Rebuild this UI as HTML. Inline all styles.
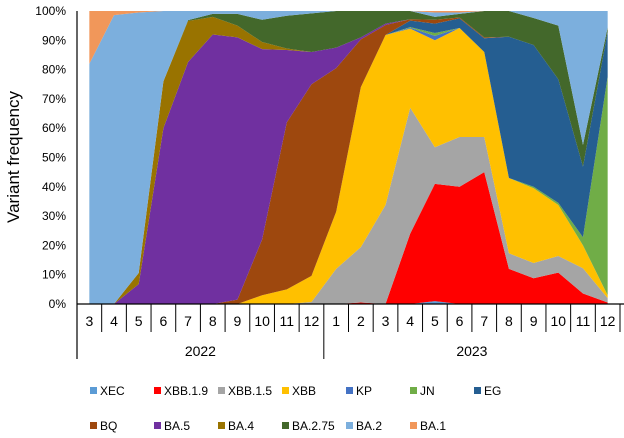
<!DOCTYPE html>
<html><head><meta charset="utf-8"><style>
body{margin:0;background:#fff;font-family:"Liberation Sans",Arial,sans-serif}
svg text{font-family:"Liberation Sans",Arial,sans-serif}
</style></head><body>
<svg id="chart" width="624" height="433" xmlns="http://www.w3.org/2000/svg">
<g id="areas"></g>
<g id="axes"></g>
<g id="legend"></g>
<text transform="translate(19,157) rotate(-90)" text-anchor="middle" font-size="17">Variant frequency</text>
</svg>
<script>
const months = ["3","4","5","6","7","8","9","10","11","12","1","2","3","4","5","6","7","8","9","10","11","12"];
const years = ["2022","2023"];
const seriesNames = ["XEC","XBB.1.9","XBB.1.5","XBB","KP","JN","EG","BQ","BA.5","BA.4","BA.2.75","BA.2","BA.1"];
const seriesColors = ["#5b9bd5","#ff0000","#a5a5a5","#ffc000","#4472c4","#70ad47","#255e91","#9e480e","#7030a0","#997300","#43682b","#7cafdd","#f1975a"];
const XEC    = [0,0,0,0,0,0,0,0,0,0,0,0,0,0,1,0,0,0,0,0,0,0];
const XBB19  = [0,0,0,0,0,0,0,0,0,0,0,0.5,0,24,40,40,45,12,8.8,10.7,3.6,0.5];
const XBB15  = [0,0,0,0,0,0,0,0,0,0.7,12,18.9,33.8,43,12.5,17,12,5.3,5.2,5.7,8.6,1.5];
const XBB    = [0,0,0,0,0,0,0,3,5,8.9,19.5,54.6,58,27,36.5,37.2,29,25.7,25.5,17.4,7.8,1];
const KP     = [0,0,0,0,0,0,0,0,0,0,0,0,0,0.3,1.5,0,0,0,0,0,0,0];
const JN     = [0,0,0,0,0,0,0,0,0,0,0,0,0,0.2,1,0,0,0,0.5,0.7,2.8,74.6];
const EG     = [0,0,0,0,0,0,0,0,0,0,0,0,0,2.2,3.2,3.3,4.7,48.2,48.4,42.2,24.1,15.4];
const BQ     = [0,0,0,0,0,0,1.5,19,57,65.4,49,16.3,3.4,0.5,1.3,0.3,0.3,0,0,0,0,0];
const BA5    = [0,0,6.8,60,82.6,92,89.5,65,24.7,11,7,0.7,0.5,0,0,0,0,0,0,0,0,0];
const BA4    = [0,0,3.8,16,14,6,4,2.4,0.5,0,0,0,0,0,0,0,0,0,0,0,0,0];
const BA275  = [0,0,0,0,0.3,1,4,7.6,11.2,13.2,12.5,9,4.3,2.8,1,1.2,9,8.8,9.2,18.3,7.4,1.4];
const BA2    = [82,98.6,88.9,24,3.1,1,1,3,1.6,0.8,0,0,0,0,1.5,0.5,0,0,2.4,5,45.7,5.6];
const BA1    = [18,1.4,0.5,0,0,0,0,0,0,0,0,0,0,0,0.5,0.5,0,0,0,0,0,0];
const yTicks = [0,10,20,30,40,50,60,70,80,90,100];

const series = [XEC,XBB19,XBB15,XBB,KP,JN,EG,BQ,BA5,BA4,BA275,BA2,BA1];
const NS="http://www.w3.org/2000/svg";
const X0=77, X1=620, Y0=304, Y1=11;
const bw=(X1-X0)/months.length;
function xPos(i){return X0+bw*(i+0.5);}
function yPos(v){return Y0-(Y0-Y1)*v/100;}
function mk(tag,attrs,parent){const e=document.createElementNS(NS,tag);for(const k in attrs)e.setAttribute(k,attrs[k]);parent.appendChild(e);return e;}

const areas=document.getElementById('areas');
let base=months.map(()=>0);
series.forEach((s,si)=>{
  const top=base.map((b,i)=>b+s[i]);
  let d="M"+months.map((m,i)=>xPos(i).toFixed(2)+","+yPos(top[i]).toFixed(2)).join(" L");
  for(let i=months.length-1;i>=0;i--) d+=" L"+xPos(i).toFixed(2)+","+yPos(base[i]).toFixed(2);
  d+="Z";
  const p=mk('path',{d:d,fill:seriesColors[si]},areas);
  
  
  base=top;
});

const axes=document.getElementById('axes');
yTicks.forEach(t=>{
  const tx=mk('text',{x:66,y:yPos(t)+4,'text-anchor':'end','font-size':12},axes);
  tx.textContent=t+"%";
  
  
});
mk('line',{x1:X0,y1:Y1,x2:X0,y2:359,stroke:'#000','stroke-width':1.2},axes);
mk('line',{x1:X0,y1:Y0,x2:624,y2:Y0,stroke:'#000','stroke-width':1.2},axes);
months.forEach((m,i)=>{
  if(i>0){
    const l=mk('line',{x1:X0+bw*i,y1:Y0,x2:X0+bw*i,y2:(i===10?359:332),stroke:'#000','stroke-width':1},axes);
  }
  const t=mk('text',{x:xPos(i),y:326,'text-anchor':'middle','font-size':14},axes);
  t.textContent=m;
  
  
});
mk('line',{x1:X0+bw*22,y1:Y0,x2:X0+bw*22,y2:332,stroke:'#000','stroke-width':1},axes);
years.forEach((y,i)=>{
  const t=mk('text',{x:X0+bw*(i===0?5:16),y:356,'text-anchor':'middle','font-size':14},axes);
  t.textContent=y;
  
  
});

const legend=document.getElementById('legend');
seriesNames.forEach((n,i)=>{
  const row=i<7?0:1, col=i<7?i:i-7;
  const x=90+col*64, y=row?425:390;
  const g=mk('g',{},legend);
  
  
  mk('rect',{x:x,y:y-3,width:7,height:7,fill:seriesColors[i]},g);
  const t=mk('text',{x:x+10,y:y+5,'font-size':12},g);
  t.textContent=n;
});
</script>
</body></html>
